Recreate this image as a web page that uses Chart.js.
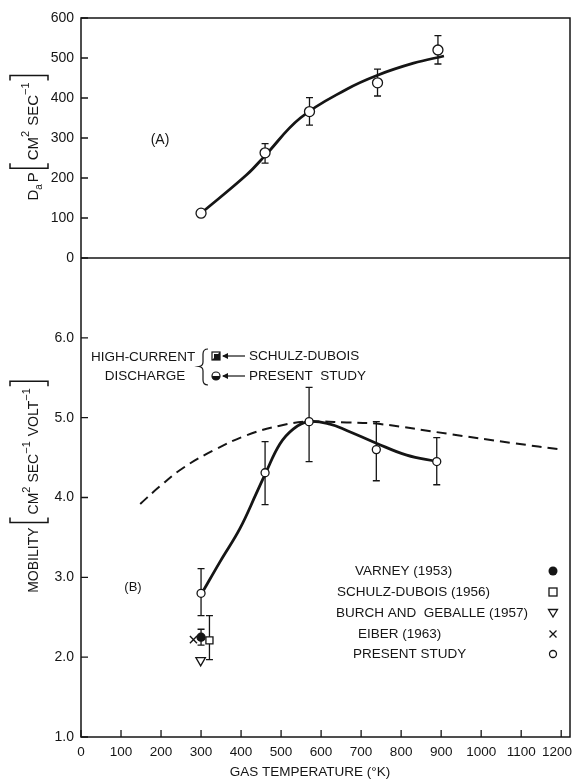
<!DOCTYPE html>
<html><head><meta charset="utf-8">
<script src="https://cdn.jsdelivr.net/npm/chart.js@4"></script>
<style>html,body{margin:0;padding:0;background:#fff;}#wrap{width:573px;height:780px;position:relative;}</style>
</head><body><div id="wrap"><canvas id="c" width="573" height="780"></canvas></div>
<script>
// ---------- data ----------
const xTicks = [0,100,200,300,400,500,600,700,800,900,1000,1100,1200];
const aTicks = [0,100,200,300,400,500,600];
const bTicks = [1,2,3,4,5,6];

// Panel (A): D_a P vs gas temperature
const aTemp    = [300, 460, 571, 741, 892];
const aValue   = [112, 263, 366, 438, 520];
const aErrLow  = [null, 237, 332, 405, 485];
const aErrHigh = [null, 286, 401, 472, 556];
const aCurveTemp  = [300, 414, 460, 548, 664, 741, 831, 907];
const aCurveValue = [112, 208, 256, 350, 422, 457, 487, 505];

// Panel (B): mobility, present study
const bTemp    = [300, 460, 570, 738, 889];
const bValue   = [2.80, 4.31, 4.95, 4.60, 4.45];
const bErrLow  = [2.52, 3.91, 4.45, 4.21, 4.16];
const bErrHigh = [3.11, 4.70, 5.38, 4.95, 4.75];
const bCurveTemp  = [302, 348, 397, 439, 460, 497, 531, 568, 622, 664, 738, 814, 889];
const bCurveValue = [2.80, 3.20, 3.61, 4.06, 4.29, 4.67, 4.86, 4.95, 4.92, 4.84, 4.68, 4.53, 4.45];
const bDashTemp  = [148, 197, 255, 331, 414, 497, 564, 664, 748, 914, 1081, 1204];
const bDashValue = [3.92, 4.14, 4.37, 4.59, 4.78, 4.90, 4.95, 4.94, 4.92, 4.80, 4.68, 4.60];

// Other measurements at room temperature
const varneyTemp = [300], varneyValue = [2.25], varneyErrLow = [2.15], varneyErrHigh = [2.35];
const schulzTemp = [321], schulzValue = [2.21], schulzErrLow = [1.97], schulzErrHigh = [2.52];
const burchTemp  = [299], burchValue  = [1.96];
const eiberTemp  = [281], eiberValue  = [2.22];

const legendLabels = ['VARNEY (1953)', 'SCHULZ-DUBOIS (1956)', 'BURCH AND  GEBALLE (1957)', 'EIBER (1963)', 'PRESENT STUDY'];

// ---------- helpers ----------
const FONT = '"Liberation Sans", Arial, sans-serif';
const INK = '#151515';
const pts = (xs, ys) => xs.map((x, i) => ({x, y: ys[i]}));

const curve = (xs, ys, axis, extra) => Object.assign({
  data: pts(xs, ys), yAxisID: axis, showLine: true, pointRadius: 0,
  borderColor: INK, borderWidth: 2.8, tension: 0.4, fill: false
}, extra || {});

const marks = (xs, ys, axis, extra) => Object.assign({
  data: pts(xs, ys), yAxisID: axis, showLine: false, pointRadius: 4,
  pointBackgroundColor: '#fff', pointBorderColor: INK, pointBorderWidth: 1.3, pointHoverRadius: 4
}, extra || {});

const datasets = [
  marks(aTemp, aValue, 'yA', {pointRadius: 5, errLow: aErrLow, errHigh: aErrHigh}),
  marks(bTemp, bValue, 'yB', {pointRadius: 4, errLow: bErrLow, errHigh: bErrHigh}),
  marks(varneyTemp, varneyValue, 'yB', {pointRadius: 4, pointBackgroundColor: INK, errLow: varneyErrLow, errHigh: varneyErrHigh}),
  marks(schulzTemp, schulzValue, 'yB', {pointStyle: 'rect', pointRadius: 5, errLow: schulzErrLow, errHigh: schulzErrHigh}),
  marks(burchTemp, burchValue, 'yB', {pointStyle: 'triangle', rotation: 180, pointRadius: 5.5}),
  marks(eiberTemp, eiberValue, 'yB', {pointStyle: 'crossRot', pointRadius: 5, pointBorderWidth: 1.4}),
  curve(aCurveTemp, aCurveValue, 'yA'),
  curve(bCurveTemp, bCurveValue, 'yB'),
  curve(bDashTemp, bDashValue, 'yB', {borderWidth: 2, borderDash: [10, 6]})
];

const fixedTicks = arr => s => { s.ticks = arr.map(v => ({value: v})); };
const noPad = () => ({left: 0, top: 0, right: 0, bottom: 0});

// ---------- plugin: frame, inward ticks, error bars, texts ----------
const decor = {
  id: 'decor',
  beforeDatasetsDraw(chart) {
    const ctx = chart.ctx, x = chart.scales.x;
    ctx.save();
    ctx.strokeStyle = INK; ctx.lineWidth = 1.3;
    chart.data.datasets.forEach(ds => {
      if (!ds.errLow) return;
      const y = chart.scales[ds.yAxisID];
      ds.data.forEach((p, i) => {
        const lo = ds.errLow[i], hi = ds.errHigh[i];
        if (lo == null || hi == null) return;
        const px = x.getPixelForValue(p.x), y1 = y.getPixelForValue(lo), y2 = y.getPixelForValue(hi);
        ctx.beginPath();
        ctx.moveTo(px, y1); ctx.lineTo(px, y2);
        ctx.moveTo(px - 3.5, y1); ctx.lineTo(px + 3.5, y1);
        ctx.moveTo(px - 3.5, y2); ctx.lineTo(px + 3.5, y2);
        ctx.stroke();
      });
    });
    ctx.restore();
  },
  afterDraw(chart) {
    const ctx = chart.ctx, ca = chart.chartArea;
    const sx = chart.scales.x, sA = chart.scales.yA, sB = chart.scales.yB;
    ctx.save();
    ctx.strokeStyle = INK; ctx.fillStyle = INK;
    // frame
    ctx.lineWidth = 1.5;
    ctx.strokeRect(ca.left, ca.top, ca.right - ca.left, ca.bottom - ca.top);
    ctx.beginPath(); ctx.moveTo(ca.left, sA.bottom); ctx.lineTo(ca.right, sA.bottom); ctx.stroke();
    // inward ticks
    ctx.lineWidth = 1.3;
    ctx.beginPath();
    sA.ticks.forEach(t => { const py = sA.getPixelForValue(t.value); ctx.moveTo(ca.left, py); ctx.lineTo(ca.left + 7, py); });
    sB.ticks.forEach(t => { const py = sB.getPixelForValue(t.value); ctx.moveTo(ca.left, py); ctx.lineTo(ca.left + 7, py); });
    sx.ticks.forEach(t => { const px = sx.getPixelForValue(t.value); ctx.moveTo(px, ca.bottom); ctx.lineTo(px, ca.bottom - 7); });
    ctx.stroke();

    // texts
    ctx.textBaseline = 'middle';
    const txt = (s, x, y, size, align) => { ctx.font = size + 'px ' + FONT; ctx.textAlign = align || 'left'; ctx.fillText(s, x, y); };

    // x tick labels (positions from the x scale, kept inside the canvas)
    ctx.font = '13.5px ' + FONT; ctx.textAlign = 'center';
    sx.ticks.forEach(t => {
      const s = String(t.value), w = ctx.measureText(s).width;
      let px = sx.getPixelForValue(t.value);
      px = Math.min(px, chart.width - 1 - w / 2);
      ctx.fillText(s, px, ca.bottom + 15);
    });

    txt('(A)', 160, 140, 14, 'center');
    txt('(B)', 133, 587, 13, 'center');
    txt('GAS TEMPERATURE (°K)', 310, 772, 13.5, 'center');

    // legend
    const ly = [571, 592, 613, 634, 654], lx = [355, 337, 336, 358, 353];
    legendLabels.forEach((s, i) => txt(s, lx[i], ly[i], 13.5));
    const mx = 553;
    ctx.lineWidth = 1.3;
    ctx.beginPath(); ctx.arc(mx, ly[0], 4.5, 0, Math.PI * 2); ctx.fill();
    ctx.strokeRect(mx - 4, ly[1] - 4, 8, 8);
    ctx.beginPath(); ctx.moveTo(mx - 4.5, ly[2] - 3.5); ctx.lineTo(mx + 4.5, ly[2] - 3.5); ctx.lineTo(mx, ly[2] + 4); ctx.closePath(); ctx.stroke();
    ctx.beginPath(); ctx.moveTo(mx - 3.5, ly[3] - 3.5); ctx.lineTo(mx + 3.5, ly[3] + 3.5); ctx.moveTo(mx + 3.5, ly[3] - 3.5); ctx.lineTo(mx - 3.5, ly[3] + 3.5); ctx.stroke();
    ctx.beginPath(); ctx.arc(mx, ly[4], 3.5, 0, Math.PI * 2); ctx.stroke();

    // high-current annotation
    txt('HIGH-CURRENT', 143, 357, 13.5, 'center');
    txt('DISCHARGE', 145, 376, 13.5, 'center');
    ctx.lineWidth = 1.2;
    ctx.beginPath();
    ctx.moveTo(208, 349); ctx.quadraticCurveTo(203, 349, 203, 354); ctx.lineTo(203, 362);
    ctx.quadraticCurveTo(203, 366, 199, 366.5); ctx.quadraticCurveTo(203, 367, 203, 371);
    ctx.lineTo(203, 380); ctx.quadraticCurveTo(203, 385, 208, 385);
    ctx.stroke();
    // half-filled square
    ctx.lineWidth = 1.2;
    ctx.strokeRect(212, 352, 8, 8);
    ctx.beginPath(); ctx.moveTo(220, 352); ctx.lineTo(220, 360); ctx.lineTo(212, 360); ctx.closePath(); ctx.fill();
    ctx.fillRect(214, 354, 6, 6);
    // half-filled circle
    ctx.beginPath(); ctx.arc(216, 376, 4, 0, Math.PI * 2); ctx.stroke();
    ctx.beginPath(); ctx.arc(216, 376, 4, 0, Math.PI); ctx.closePath(); ctx.fill();
    // arrows
    [356, 376].forEach(y => {
      ctx.beginPath(); ctx.moveTo(223, y); ctx.lineTo(245, y); ctx.stroke();
      ctx.beginPath(); ctx.moveTo(222, y); ctx.lineTo(228, y - 3); ctx.lineTo(228, y + 3); ctx.closePath(); ctx.fill();
    });
    txt('SCHULZ-DUBOIS', 249, 356, 13.5);
    txt('PRESENT  STUDY', 249, 376, 13.5);

    // rotated axis titles
    const rotTitle = (parts, baseX, centerY) => {
      ctx.save();
      let total = 0;
      parts.forEach(p => { if (p.br) { p.w = 7; } else { ctx.font = p.size + 'px ' + FONT; p.w = ctx.measureText(p.t).width; } total += p.w + (p.gap || 0); });
      ctx.translate(baseX, centerY + total / 2);
      ctx.rotate(-Math.PI / 2);
      ctx.textAlign = 'left'; ctx.textBaseline = 'alphabetic';
      let pos = 0;
      parts.forEach(p => {
        if (p.br) {
          ctx.lineWidth = 1.5;
          ctx.beginPath();
          if (p.br === '[') { ctx.moveTo(pos + 6, -28); ctx.lineTo(pos + 1, -28); ctx.lineTo(pos + 1, 10); ctx.lineTo(pos + 6, 10); }
          else { ctx.moveTo(pos, -28); ctx.lineTo(pos + 5, -28); ctx.lineTo(pos + 5, 10); ctx.lineTo(pos, 10); }
          ctx.stroke();
        } else {
          ctx.font = p.size + 'px ' + FONT;
          ctx.fillText(p.t, pos, p.dy || 0);
        }
        pos += p.w + (p.gap || 0);
      });
      ctx.restore();
    };
    rotTitle([
      {t: 'D', size: 15}, {t: 'a', size: 10, dy: 4, gap: 2}, {t: 'P', size: 15, gap: 3},
      {br: '[', gap: 2}, {t: 'CM', size: 15}, {t: '2', size: 11, dy: -9, gap: 5},
      {t: 'SEC', size: 15}, {t: '−1', size: 11, dy: -9, gap: 2}, {br: ']'}
    ], 38, 137);
    rotTitle([
      {t: 'MOBILITY', size: 14, gap: 4},
      {br: '[', gap: 2}, {t: 'CM', size: 14}, {t: '2', size: 11, dy: -8, gap: 4},
      {t: 'SEC', size: 14}, {t: '−1', size: 11, dy: -8, gap: 5},
      {t: 'VOLT', size: 14}, {t: '−1', size: 11, dy: -8, gap: 2}, {br: ']'}
    ], 38, 486);
    ctx.restore();
  }
};

const tickFont = {family: FONT, size: 14};
new Chart(document.getElementById('c'), {
  type: 'scatter',
  data: {datasets},
  options: {
    responsive: false, animation: false, events: [],
    layout: {autoPadding: false, padding: {left: 0, right: 3, top: 18, bottom: 0}},
    plugins: {legend: {display: false}, tooltip: {enabled: false}},
    scales: {
      x: {
        type: 'linear', position: 'bottom', min: 0, max: 1222,
        afterBuildTicks: fixedTicks(xTicks),
        afterFit: s => { s.height = 43; s.paddingLeft = 0; s.paddingRight = 0; s.getPadding = noPad; },
        ticks: {display: false, font: tickFont, color: INK, maxRotation: 0, autoSkip: false},
        grid: {display: false, drawTicks: false}, border: {display: false}
      },
      yA: {
        type: 'linear', position: 'left', stack: 'panels', stackWeight: 240, weight: 2,
        min: 0, max: 600,
        afterBuildTicks: fixedTicks(aTicks),
        afterFit: s => { s.width = 81; s.paddingTop = 0; s.paddingBottom = 0; s.getPadding = noPad; },
        ticks: {font: tickFont, color: INK, padding: 7, callback: v => String(v)},
        grid: {display: false, drawTicks: false}, border: {display: false}
      },
      yB: {
        type: 'linear', position: 'left', stack: 'panels', stackWeight: 479, weight: 1,
        min: 1, max: 7,
        afterBuildTicks: fixedTicks(bTicks),
        afterFit: s => { s.width = 81; s.paddingTop = 0; s.paddingBottom = 0; s.getPadding = noPad; },
        ticks: {font: tickFont, color: INK, padding: 7, callback: v => v.toFixed(1)},
        grid: {display: false, drawTicks: false}, border: {display: false}
      }
    }
  },
  plugins: [decor]
});
</script>
</body></html>
